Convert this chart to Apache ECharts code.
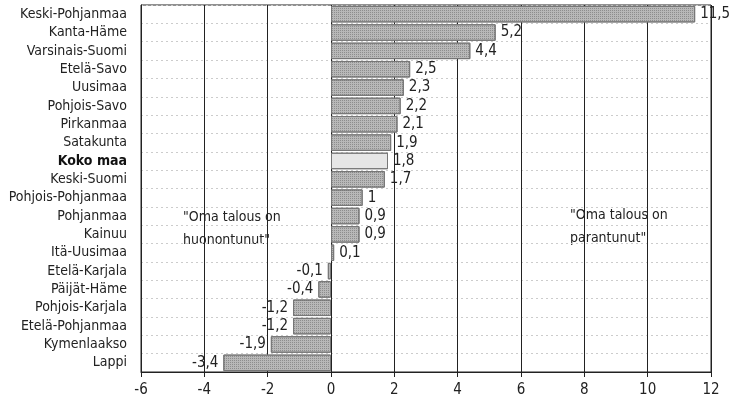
<!DOCTYPE html>
<html>
<head>
<meta charset="utf-8">
<script src="https://cdn.jsdelivr.net/npm/echarts@6/dist/echarts.min.js"></script>
<style>
  html, body { margin: 0; padding: 0; background: #fff; }
  #chart { width: 734px; height: 405px; }
</style>
</head>
<body>
<div id="chart"></div>
<script>
// maakunnat ylhäältä alas
const regions = ['Keski-Pohjanmaa', 'Kanta-Häme', 'Varsinais-Suomi', 'Etelä-Savo', 'Uusimaa',
  'Pohjois-Savo', 'Pirkanmaa', 'Satakunta', 'Koko maa', 'Keski-Suomi', 'Pohjois-Pohjanmaa',
  'Pohjanmaa', 'Kainuu', 'Itä-Uusimaa', 'Etelä-Karjala', 'Päijät-Häme', 'Pohjois-Karjala',
  'Etelä-Pohjanmaa', 'Kymenlaakso', 'Lappi']
const values = [11.5, 5.2, 4.4, 2.5, 2.3, 2.2, 2.1, 1.9, 1.8, 1.7, 1, 0.9, 0.9, 0.1,
  -0.1, -0.4, -1.2, -1.2, -1.9, -3.4]
const highlight = 'Koko maa'
const notes = ['"Oma talous on\nhuonontunut"', '"Oma talous on\nparantunut"']

const FONT = '"Liberation Sans Narrow", "DejaVu Sans Condensed", "Liberation Sans", sans-serif'

let dom = document.getElementById('chart')
var chart = echarts.init(dom)

// pisterasteri palkkeihin
const dots = { symbol: 'rect', symbolSize: 1, dashArrayX: [1, 1], dashArrayY: [1, 1], rotation: 0, color: 'rgba(60,60,60,0.35)' }

const barData = values.map((v, i) => {
  let isTotal = regions[i] == highlight
  return {
    value: v,
    itemStyle: isTotal
      ? { color: '#e6e6e6', decal: { symbol: 'none' } }
      : { color: '#b8b8b8', decal: dots },
    label: { position: v < 0 ? 'left' : 'right' }
  }
})

chart.setOption({
  animation: false,
  aria: { enabled: true, decal: { show: true } },
  grid: { left: 141, right: 23, top: 5, bottom: 33, show: true, borderColor: '#222', borderWidth: 1 },
  xAxis: {
    type: 'value', min: -6, max: 12, interval: 2,
    axisLine: { show: true, onZero: false, lineStyle: { color: '#222' } },
    axisTick: { show: true, length: 5, lineStyle: { color: '#222' } },
    axisLabel: { fontFamily: FONT, fontSize: 15, color: '#222', margin: 11 },
    splitLine: { show: true, lineStyle: { color: '#222', width: 1 } }
  },
  yAxis: {
    type: 'category', data: regions, inverse: true,
    axisLine: { show: true, onZero: false, lineStyle: { color: '#222' } },
    axisTick: { show: false },
    axisLabel: {
      fontFamily: FONT, fontSize: 14, color: '#222', margin: 14,
      formatter: v => v == highlight ? '{b|' + v + '}' : v,
      rich: { b: { fontFamily: FONT, fontSize: 14, fontWeight: 'bold', color: '#111' } }
    },
    splitLine: { show: true, lineStyle: { color: '#ccc', type: [2, 3], width: 1 } }
  },
  series: [{
    type: 'bar',
    data: barData,
    barCategoryGap: '10%',
    itemStyle: { borderColor: '#777', borderWidth: 1 },
    label: {
      show: true, fontFamily: FONT, fontSize: 15, color: '#222', distance: 5,
      formatter: p => String(p.value).replace('.', ',')
    }
  }],
  graphic: [
    { type: 'text', left: 183, top: 206, style: { text: notes[0], font: '14px ' + FONT, fill: '#222', lineHeight: 23 } },
    { type: 'text', left: 570, top: 204, style: { text: notes[1], font: '14px ' + FONT, fill: '#222', lineHeight: 23 } }
  ]
})
</script>
</body>
</html>
